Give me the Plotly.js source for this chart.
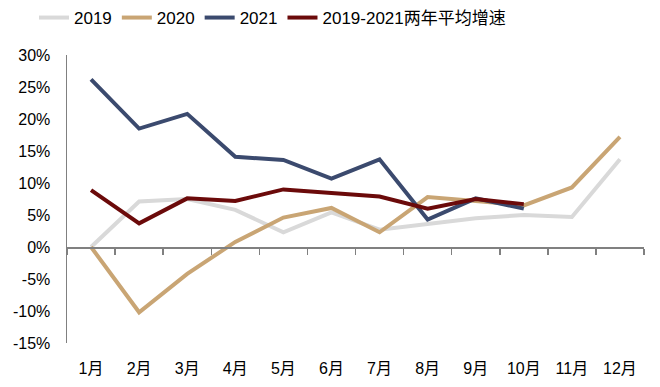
<!DOCTYPE html>
<html><head><meta charset="utf-8">
<script src="https://cdn.plot.ly/plotly-3.0.1.min.js"></script>
<style>html,body{margin:0;padding:0;background:#fff}#chart{width:660px;height:387px}</style>
</head><body><div id="chart"></div>
<script>
const months = ["1月","2月","3月","4月","5月","6月","7月","8月","9月","10月","11月","12月"];
const s2019 = [0.0, 7.1, 7.5, 5.8, 2.3, 5.4, 2.7, 3.6, 4.5, 5.0, 4.7, 13.7];
const s2020 = [0.0, -10.2, -4.2, 0.8, 4.6, 6.1, 2.3, 7.8, 7.2, 6.5, 9.3, 17.2];
const s2021 = [26.2, 18.5, 20.8, 14.1, 13.6, 10.7, 13.7, 4.3, 7.6, 6.0];
const sAvg = [8.9, 3.7, 7.6, 7.2, 9.0, 8.5, 7.9, 6.0, 7.5, 6.7];
const names = ["2019","2020","2021","2019-2021两年平均增速"];
const yTicks = [-15,-10,-5,0,5,10,15,20,25,30];

const colors = ["#D9D9D9","#C9A574","#3B4A6E","#6B0A0A"];
const series = [s2019, s2020, s2021, sAvg];
const data = series.map((s,i)=>({
  type:"scatter", mode:"lines", name:names[i],
  x: months.slice(0, s.length), y: s,
  line:{color:colors[i], width:4}
}));
const fam = "Liberation Sans, Arial, Noto Sans CJK SC, sans-serif";
const font = {family:fam, size:16, color:"#000"};
const yMin = -15, yMax = 30;
const layout = {
  width:660, height:387,
  margin:{l:67, r:16, t:55, b:44},
  paper_bgcolor:"#fff", plot_bgcolor:"#fff",
  font: font,
  showlegend:true,
  legend:{orientation:"h", xref:"container", yref:"container", x:34/660, xanchor:"left",
          y:1-18/387, yanchor:"middle",
          font:{family:fam, size:17, color:"#000"}, itemwidth:30, traceorder:"normal"},
  xaxis:{type:"category", categoryorder:"array", categoryarray:months, range:[-0.5,11.5],
         anchor:"free", position:(0-yMin)/(yMax-yMin), tickson:"boundaries",
         showline:true, linecolor:"#808080", linewidth:1.5,
         ticks:"outside", ticklen:6, tickcolor:"#808080", tickwidth:1.5,
         ticklabelstandoff:106,
         showgrid:false, zeroline:false, tickfont:font},
  yaxis:{range:[yMin,yMax], tickvals:yTicks, ticktext:yTicks.map(v=>v+"%"),
         showline:true, linecolor:"#808080", linewidth:1.5, showgrid:false, zeroline:false,
         ticks:"outside", ticklen:12, tickcolor:"rgba(0,0,0,0)", tickfont:font}
};
Plotly.newPlot("chart", data, layout, {displayModeBar:false, staticPlot:true});
</script></body></html>
